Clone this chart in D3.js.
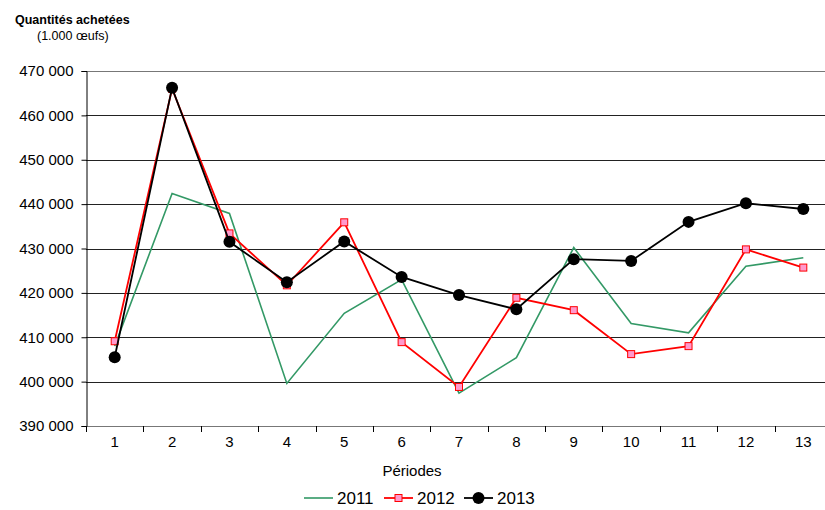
<!DOCTYPE html>
<html>
<head>
<meta charset="utf-8">
<script src="https://cdn.jsdelivr.net/npm/d3@7"></script>
<style>
  body { margin: 0; background: #fff; }
  svg { display: block; font-family: "Liberation Sans", Arial, sans-serif; }
</style>
</head>
<body>
<div id="vis"></div>
<script>
var periods = [1, 2, 3, 4, 5, 6, 7, 8, 9, 10, 11, 12, 13];
var values2011 = [408000, 442400, 437900, 399600, 415400, 423000, 397400, 405400, 430200, 413100, 411000, 426000, 427900];
var values2012 = [409100, 466000, 433400, 421700, 435900, 408900, 398800, 418900, 416100, 406200, 408000, 429800, 425700];
var values2013 = [405500, 466200, 431500, 422400, 431600, 423600, 419500, 416300, 427600, 427200, 436000, 440200, 438900];
var yTicks = [390000, 400000, 410000, 420000, 430000, 440000, 450000, 460000, 470000];

var width = 825, height = 510;
var margin = { top: 71, bottom: 84, left: 86, right: -7 };

var svg = d3.select('#vis')
  .append('svg')
  .attr('width', width)
  .attr('height', height);

var x_scale = d3.scaleBand()
  .domain(periods)
  .range([margin.left, width - margin.right]);

var y_scale = d3.scaleLinear()
  .domain([390000, 470000])
  .range([height - margin.bottom, margin.top]);

var fmt = function(d) {
  return d3.format(',')(d).replace(/,/g, ' ');
};

// horizontal grid
svg.append('g')
  .selectAll('line')
  .data(yTicks)
  .enter()
  .append('line')
  .attr('x1', margin.left)
  .attr('x2', width)
  .attr('y1', function(d) { return Math.round(y_scale(d)) + 0.5; })
  .attr('y2', function(d) { return Math.round(y_scale(d)) + 0.5; })
  .attr('stroke', function(d) { return (d === 470000 || d === 390000) ? '#777' : '#222'; })
  .attr('stroke-width', 1);

// y axis
var y_axis = d3.axisLeft(y_scale)
  .tickValues(yTicks)
  .tickSize(5)
  .tickPadding(8)
  .tickFormat(fmt);

var gy = svg.append('g')
  .attr('class', 'y axis')
  .attr('transform', 'translate(' + (margin.left + 0.5) + ',0)')
  .call(y_axis);
gy.select('.domain').attr('stroke', '#000');
gy.selectAll('.tick line').attr('stroke', '#000');
gy.selectAll('.tick text')
  .style('font-size', '15px')
  .attr('fill', '#000');

// x axis
var x_axis = d3.axisBottom(x_scale)
  .tickSize(0)
  .tickPadding(10);

var gx = svg.append('g')
  .attr('class', 'x axis')
  .attr('transform', 'translate(0,' + (Math.round(y_scale(390000)) + 0.5) + ')')
  .call(x_axis);
gx.select('.domain').remove();
gx.selectAll('.tick text')
  .style('font-size', '15px')
  .attr('fill', '#000');

// ticks between categories
svg.append('g')
  .selectAll('line')
  .data(periods)
  .enter()
  .append('line')
  .attr('x1', function(d) { return Math.round(x_scale(d)) + 0.5; })
  .attr('x2', function(d) { return Math.round(x_scale(d)) + 0.5; })
  .attr('y1', Math.round(y_scale(390000)))
  .attr('y2', Math.round(y_scale(390000)) + 6)
  .attr('stroke', '#000');

var cx = function(i) { return x_scale(periods[i]) + x_scale.bandwidth() / 2; };

var line = d3.line()
  .x(function(d, i) { return cx(i); })
  .y(function(d) { return y_scale(d); });

// 2011
svg.append('path')
  .datum(values2011)
  .attr('fill', 'none')
  .attr('stroke', '#339966')
  .attr('stroke-width', 1.6)
  .attr('d', line);

// 2012
svg.append('path')
  .datum(values2012)
  .attr('fill', 'none')
  .attr('stroke', '#ff0000')
  .attr('stroke-width', 1.8)
  .attr('d', line);

svg.append('g')
  .selectAll('rect')
  .data(values2012)
  .enter()
  .append('rect')
  .attr('x', function(d, i) { return cx(i) - 3.5; })
  .attr('y', function(d) { return y_scale(d) - 3.5; })
  .attr('width', 7)
  .attr('height', 7)
  .attr('fill', '#ff99cc')
  .attr('stroke', '#ff0000')
  .attr('stroke-width', 1);

// 2013
svg.append('path')
  .datum(values2013)
  .attr('fill', 'none')
  .attr('stroke', '#000')
  .attr('stroke-width', 1.8)
  .attr('d', line);

svg.append('g')
  .selectAll('circle')
  .data(values2013)
  .enter()
  .append('circle')
  .attr('cx', function(d, i) { return cx(i); })
  .attr('cy', function(d) { return y_scale(d); })
  .attr('r', 6)
  .attr('fill', '#000');

// titles
svg.append('text')
  .text('Quantités achetées')
  .attr('x', 15)
  .attr('y', 24)
  .style('font-size', '12.5px')
  .style('font-weight', 'bold');

svg.append('text')
  .text('(1.000 œufs)')
  .attr('x', 37)
  .attr('y', 40)
  .style('font-size', '12.5px');

svg.append('text')
  .text('Périodes')
  .attr('x', 412)
  .attr('y', 476)
  .attr('text-anchor', 'middle')
  .style('font-size', '15px');

// legend
var legend = [
  { name: '2011', color: '#339966', x: 304, mark: 'none' },
  { name: '2012', color: '#ff0000', x: 384, mark: 'square' },
  { name: '2013', color: '#000', x: 464, mark: 'circle' }
];

var lg = svg.append('g')
  .selectAll('g')
  .data(legend)
  .enter()
  .append('g')
  .attr('transform', function(d) { return 'translate(' + d.x + ',498)'; });

lg.append('line')
  .attr('x1', 0)
  .attr('x2', 29)
  .attr('stroke', function(d) { return d.color; })
  .attr('stroke-width', function(d) { return d.name === '2011' ? 1.6 : 1.8; });

lg.filter(function(d) { return d.mark === 'square'; })
  .append('rect')
  .attr('x', 14.5 - 3.5)
  .attr('y', -3.5)
  .attr('width', 7)
  .attr('height', 7)
  .attr('fill', '#ff99cc')
  .attr('stroke', '#ff0000');

lg.filter(function(d) { return d.mark === 'circle'; })
  .append('circle')
  .attr('cx', 14.5)
  .attr('r', 6)
  .attr('fill', '#000');

lg.append('text')
  .text(function(d) { return d.name; })
  .attr('x', 33)
  .attr('y', 6)
  .style('font-size', '17px');
</script>
</body>
</html>
